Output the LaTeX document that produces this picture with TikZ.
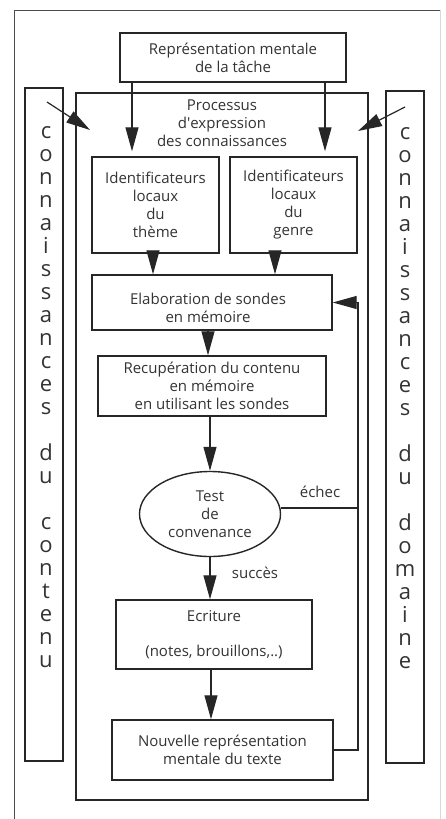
\documentclass[tikz,border=0pt]{standalone}
\usepackage{fontspec}
\setmainfont{Open Sans}
\usetikzlibrary{arrows.meta,shapes.geometric}
\newcommand\txtf{\fontsize{15}{18}\selectfont}
\newcommand\colf{\fontsize{22}{23}\selectfont}
\begin{document}
\begin{tikzpicture}[x=1pt,y=-1pt,
  box/.style={draw=black!85, line width=1.4pt, align=center, inner sep=0pt, font=\txtf, text=black!80},
  plain/.style={font=\txtf, align=center, text=black!80, inner sep=0pt},
  letters/.style={font=\colf, align=center, text=black!80, inner sep=0pt},
  arr/.style={draw=black!85, line width=1.2pt, -{Triangle[length=24pt,width=13pt]}},
  link/.style={draw=black!85, line width=1.2pt}]
\useasboundingbox (0,0) rectangle (445,819);
% outer frame
\draw[line width=1pt, black!70] (14,819) -- (14,10) -- (440,10);
\draw[line width=0.6pt, black!15] (440,10) -- (440,819);
% nodes
\node[box, minimum width=226pt, minimum height=49pt] (tache) at (233,57.5) {Représentation mentale\\de la tâche};
\node[box, minimum width=292pt, minimum height=707pt] (proc) at (222,446.5) {};
\node[plain] (proctxt) at (222,123) {Processus\\d\textquotesingle expression\\des connaissances};
\node[box, minimum width=38pt, minimum height=673pt] (colL) at (44,424.5) {};
\node[box, minimum width=38pt, minimum height=672pt] (colR) at (405,427) {};
\node[letters, anchor=north] (txtL) at (46,126) {c\\o\\n\\n\\a\\i\\s\\s\\a\\n\\c\\e\\s\\[23pt]d\\u\\[23pt]c\\o\\n\\t\\e\\n\\u};
\node[letters, anchor=north] (txtR) at (405,127) {c\\o\\n\\n\\a\\i\\s\\s\\a\\n\\c\\e\\s\\[23pt]d\\u\\[23pt]d\\o\\m\\a\\i\\n\\e};
\node[box, minimum width=127pt, minimum height=96pt] (idL) at (155.5,205) {Identificateurs\\locaux\\du\\thème};
\node[box, minimum width=127pt, minimum height=96pt] (idR) at (293.5,205) {Identificateurs\\locaux\\du\\genre};
\node[box, minimum width=240pt, minimum height=55pt] (elab) at (212,302.5) {};
\node[plain] (elabtxt) at (208,308) {Elaboration de sondes\\en mémoire};
\node[box, minimum width=228pt, minimum height=60pt] (recup) at (212,386) {Recupération du contenu\\en mémoire\\en utilisant les sondes};
\node[box, ellipse, minimum width=141pt, minimum height=85pt] (test) at (210,514) {Test\\de\\convenance};
\node[box, minimum width=196pt, minimum height=69pt] (ecr) at (214,634.5) {Ecriture\\[17pt](notes, brouillons,..)};
\node[box, minimum width=221pt, minimum height=60pt] (nouv) at (222.5,750) {Nouvelle représentation\\mentale du texte};
\node[plain] (echec) at (320,492) {échec};
\node[plain] (succes) at (255,573) {succès};
% coordinates
\coordinate (fb) at (358,0);
\coordinate (dl0) at (47,102);
\coordinate (dl1) at (90,130);
\coordinate (dr0) at (405,107);
\coordinate (dr1) at (358,131);
\coordinate (te) at ([yshift=6pt]test.east);
% connectors
\draw[arr] (dl0) -- (dl1);
\draw[arr] (dr0) -- (dr1);
\draw[arr, shorten >=5pt] (tache.south -| 132,0) -- (idL.north -| 132,0);
\draw[arr, shorten >=5pt] (tache.south -| 325,0) -- (idR.north -| 325,0);
\draw[arr] (idL.south -| 153,0) -- (elab.north -| 153,0);
\draw[arr] (idR.south -| 275,0) -- (elab.north -| 275,0);
\draw[arr] (elab.south -| 208,0) -- (recup.north -| 208,0);
\draw[arr] (recup.south -| test.north) -- (test.north);
\draw[arr] (test.south) -- (test.south |- ecr.north);
\draw[arr] (ecr.south -| 211,0) -- (nouv.north -| 211,0);
\draw[arr] (nouv.east) -- (nouv.east -| fb) -- (elab.east -| fb) -- (elab.east);
\draw[link] (te) -- (te -| fb);
\end{tikzpicture}
\end{document}
